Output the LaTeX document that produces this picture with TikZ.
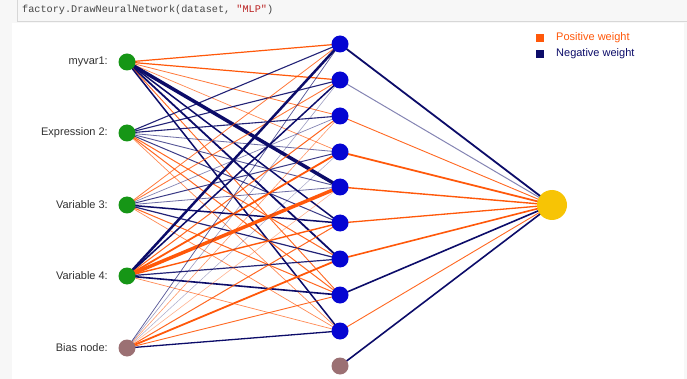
\documentclass[tikz,border=0pt]{standalone}
\usepackage{fontspec}
\setmainfont{Liberation Sans}
\newfontfamily\codefont{Liberation Mono}
\definecolor{posc}{RGB}{255,88,10}
\definecolor{negc}{RGB}{12,12,105}
\definecolor{ingreen}{RGB}{22,150,22}
\definecolor{hidblue}{RGB}{5,5,210}
\definecolor{biasc}{RGB}{155,112,115}
\definecolor{outy}{RGB}{247,196,5}
\definecolor{lblgray}{RGB}{50,50,50}
\definecolor{cellbg}{RGB}{247,247,247}
\definecolor{cellln}{RGB}{215,215,215}
\definecolor{codegray}{RGB}{70,70,70}
\definecolor{codered}{RGB}{186,33,33}
\pgfdeclarelayer{bottom}
\pgfdeclarelayer{background}
\pgfsetlayers{bottom,background,main}
\begin{document}
\begin{tikzpicture}[x=1pt,y=-1pt,
  neuron/.style={circle,inner sep=0pt,minimum size=17pt},
  inp/.style={neuron,fill=ingreen},
  hid/.style={neuron,fill=hidblue},
  biasn/.style={neuron,fill=biasc},
  outn/.style={circle,inner sep=0pt,minimum size=30pt,fill=outy},
  lbl/.style={anchor=east,inner sep=0pt,font=\fontsize{11}{13}\selectfont,text=lblgray},
  legtxt/.style={anchor=west,inner sep=0pt,font=\fontsize{11}{13}\selectfont}]
\useasboundingbox (0,0) rectangle (687,379);
\begin{pgfonlayer}{bottom}
\fill[cellbg] (0,0) rectangle (687,379);
\fill[white] (12,23) rectangle (684,379);
\draw[cellln,fill=cellbg] (17,-2) rectangle (690,21);
\end{pgfonlayer}
\node[anchor=base west,inner sep=0pt,font=\codefont\fontsize{10.2}{12}\selectfont,text=codegray] (code) at (22,13)
  {factory.DrawNeuralNetwork(dataset, \textcolor{codered}{"MLP"})};
% input layer
\node[inp] (i1) at (127,62) {};
\node[inp] (i2) at (127,133) {};
\node[inp] (i3) at (127,205) {};
\node[inp] (i4) at (127,276) {};
\node[biasn] (ib) at (127,348) {};
\node[lbl] (l1) at (108,62) {myvar1:};
\node[lbl] (l2) at (108,133) {Expression 2:};
\node[lbl] (l3) at (108,205) {Variable 3:};
\node[lbl] (l4) at (108,276) {Variable 4:};
\node[lbl] (lb) at (108,348) {Bias node:};
% hidden layer
\foreach \k/\y in {1/44,2/80,3/116,4/152,5/187,6/223,7/259,8/295,9/331}
  \node[hid] (h\k) at (340,\y) {};
\node[biasn] (hb) at (340,366) {};
% output
\node[outn] (o) at (552,205) {};
% legend
\node[fill=posc,inner sep=0pt,minimum size=8pt] (lp) at (540,38) {};
\node[fill=negc,inner sep=0pt,minimum size=8pt] (ln) at (540,54) {};
\node[legtxt,text=posc] (lpt) at (556,38) {Positive weight};
\node[legtxt,text=negc] (lnt) at (556,54) {Negative weight};
\begin{pgfonlayer}{background}
\foreach \s/\t/\c/\w/\o in {
  i1/h1/posc/1.2/1, i1/h2/posc/1.2/1, i1/h3/posc/0.8/0.8, i1/h4/posc/0.7/0.7, i1/h5/negc/3.5/1,
  i1/h6/negc/1.5/1, i1/h7/negc/1.8/1, i1/h8/posc/0.9/0.9, i1/h9/negc/1.5/1,
  i2/h1/negc/1.1/0.9, i2/h2/negc/1.1/0.9, i2/h3/negc/1.1/0.9, i2/h4/negc/0.8/0.6, i2/h5/negc/0.9/0.7,
  i2/h6/negc/1/0.8, i2/h7/posc/1/0.9, i2/h8/posc/1/0.9, i2/h9/posc/0.7/0.7,
  i3/h1/posc/0.8/0.8, i3/h2/posc/0.9/0.8, i3/h3/negc/0.7/0.5, i3/h4/negc/1/0.8, i3/h5/negc/0.8/0.6,
  i3/h6/negc/1.5/1, i3/h7/negc/1.2/0.9, i3/h8/posc/1/0.9, i3/h9/posc/0.7/0.7,
  i4/h1/negc/2.5/1, i4/h2/negc/1.5/1, i4/h3/posc/1/0.9, i4/h4/posc/1.8/1, i4/h5/posc/3.5/1,
  i4/h6/posc/1.4/1, i4/h7/negc/1.2/0.9, i4/h8/negc/1.6/1, i4/h9/posc/0.7/0.7,
  ib/h1/negc/0.7/0.7, ib/h2/negc/0.6/0.4, ib/h3/posc/0.6/0.6, ib/h4/negc/0.5/0.35, ib/h5/posc/0.6/0.45,
  ib/h6/posc/1/0.9, ib/h7/posc/1.8/1, ib/h8/posc/0.9/0.9, ib/h9/negc/1.3/1,
  h1/o/negc/1.8/1, h2/o/negc/1/0.5, h3/o/posc/0.9/0.9, h4/o/posc/1.8/1, h5/o/posc/1.4/1,
  h6/o/posc/1.3/1, h7/o/posc/1.6/1, h8/o/negc/1.6/1, h9/o/posc/0.9/0.9, hb/o/negc/1.6/1}
  \draw[draw=\c,line width=\w pt,draw opacity=\o] (\s.center) -- (\t.center);
\end{pgfonlayer}
\end{tikzpicture}
\end{document}
